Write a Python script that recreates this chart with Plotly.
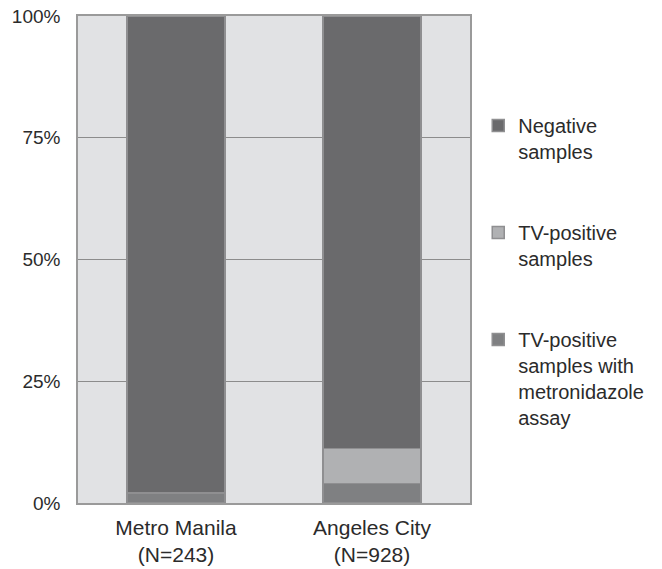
import plotly.graph_objects as go

categories = ["Metro Manila<br>(N=243)", "Angeles City<br>(N=928)"]
assay_pct = [2.1, 4.0]          # TV-positive samples with metronidazole assay
tvpos_pct = [0.0, 7.2]          # TV-positive samples (additional)
negative_pct = [97.9, 88.8]     # Negative samples
y_ticks = [0, 25, 50, 75, 100]
y_tick_labels = ["0%", "25%", "50%", "75%", "100%"]

series = [
    ("TV-positive<br>samples with<br>metronidazole<br>assay", assay_pct, "#7f8082", 3),
    ("TV-positive<br>samples", tvpos_pct, "#b0b1b3", 2),
    ("Negative<br>samples", negative_pct, "#6a6a6c", 1),
]

fig = go.Figure()
for i, (name, vals, col, rank) in enumerate(series):
    fig.add_trace(go.Bar(
        x=categories, y=vals, name=name, legendgroup=f"g{rank}", legendrank=rank,
        marker=dict(color=col, line=dict(color="#8f8f91", width=1.5)),
    ))

fig.update_layout(
    barmode="stack",
    bargap=0.5,
    width=662, height=569,
    margin=dict(l=78, r=192, t=16, b=66, autoexpand=False),
    paper_bgcolor="white",
    plot_bgcolor="#e1e2e4",
    font=dict(family="Liberation Sans, Arial, sans-serif", color="#2b2b2b"),
    showlegend=True,
    legend=dict(
        x=1.021, xanchor="left", y=0.815, yanchor="top",
        traceorder="grouped", tracegroupgap=52,
        valign="top",
        font=dict(size=20, color="#2b2b2b"),
        bgcolor="rgba(0,0,0,0)",
    ),
    xaxis=dict(
        automargin=False,
        showgrid=False, showline=True, mirror=True, linecolor="#9a9a9a", linewidth=1.5,
        ticks="", ticklabelstandoff=5, tickfont=dict(size=21, color="#2b2b2b"),
    ),
    yaxis=dict(
        automargin=False, ticklabeloverflow="allow",
        range=[0, 100], tickvals=y_ticks, ticktext=y_tick_labels,
        showgrid=True, gridcolor="#8c8c8c", gridwidth=1.2,
        showline=True, mirror=True, linecolor="#9a9a9a", linewidth=1.5,
        ticks="", ticklabelstandoff=12, tickfont=dict(size=19, color="#2b2b2b"),
        zeroline=False,
    ),
)

fig.write_html(
    "out.html",
    config={"displayModeBar": False},
    post_script="document.body.style.margin='0';document.body.style.overflow='hidden';",
)
